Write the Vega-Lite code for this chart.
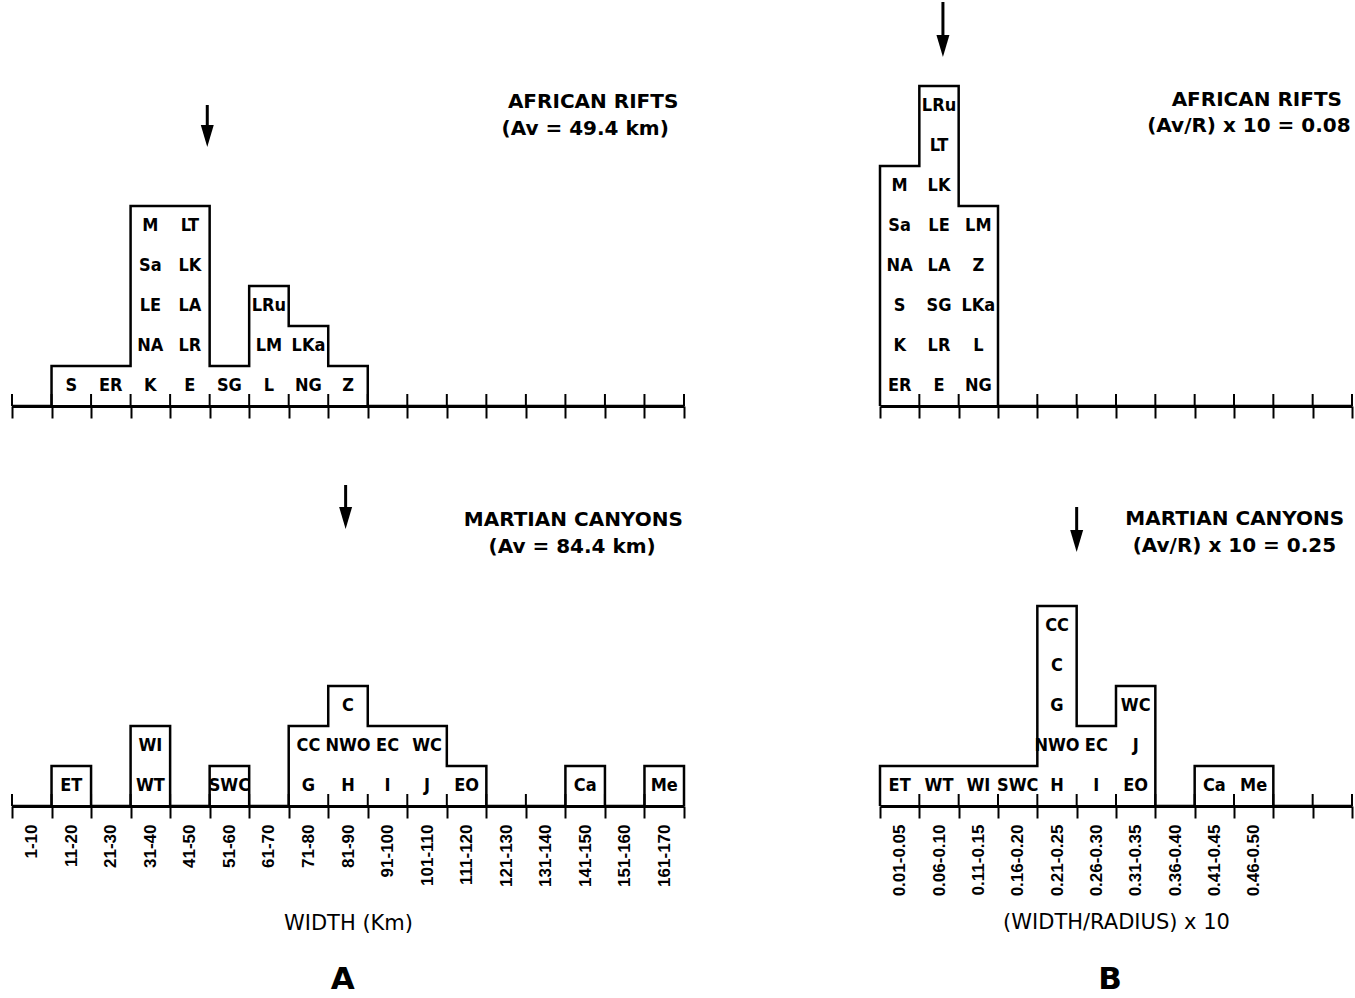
{
  "$schema": "https://vega.github.io/schema/vega-lite/v6.json",
  "padding": {"left": 3, "top": 0, "right": 0, "bottom": 0},
  "background": "white",
  "config": {"view": {"stroke": null}},
  "datasets": {
    "cells": [
      {"p": "TL", "bin": "11-20", "label": "S"},
      {"p": "TL", "bin": "21-30", "label": "ER"},
      {"p": "TL", "bin": "31-40", "label": "K"},
      {"p": "TL", "bin": "31-40", "label": "NA"},
      {"p": "TL", "bin": "31-40", "label": "LE"},
      {"p": "TL", "bin": "31-40", "label": "Sa"},
      {"p": "TL", "bin": "31-40", "label": "M"},
      {"p": "TL", "bin": "41-50", "label": "E"},
      {"p": "TL", "bin": "41-50", "label": "LR"},
      {"p": "TL", "bin": "41-50", "label": "LA"},
      {"p": "TL", "bin": "41-50", "label": "LK"},
      {"p": "TL", "bin": "41-50", "label": "LT"},
      {"p": "TL", "bin": "51-60", "label": "SG"},
      {"p": "TL", "bin": "61-70", "label": "L"},
      {"p": "TL", "bin": "61-70", "label": "LM"},
      {"p": "TL", "bin": "61-70", "label": "LRu"},
      {"p": "TL", "bin": "71-80", "label": "NG"},
      {"p": "TL", "bin": "71-80", "label": "LKa"},
      {"p": "TL", "bin": "81-90", "label": "Z"},
      {"p": "BL", "bin": "11-20", "label": "ET"},
      {"p": "BL", "bin": "31-40", "label": "WT"},
      {"p": "BL", "bin": "31-40", "label": "WI"},
      {"p": "BL", "bin": "51-60", "label": "SWC"},
      {"p": "BL", "bin": "71-80", "label": "G"},
      {"p": "BL", "bin": "71-80", "label": "CC"},
      {"p": "BL", "bin": "81-90", "label": "H"},
      {"p": "BL", "bin": "81-90", "label": "NWO"},
      {"p": "BL", "bin": "81-90", "label": "C"},
      {"p": "BL", "bin": "91-100", "label": "I"},
      {"p": "BL", "bin": "91-100", "label": "EC"},
      {"p": "BL", "bin": "101-110", "label": "J"},
      {"p": "BL", "bin": "101-110", "label": "WC"},
      {"p": "BL", "bin": "111-120", "label": "EO"},
      {"p": "BL", "bin": "141-150", "label": "Ca"},
      {"p": "BL", "bin": "161-170", "label": "Me"},
      {"p": "TR", "bin": "0.01-0.05", "label": "ER"},
      {"p": "TR", "bin": "0.01-0.05", "label": "K"},
      {"p": "TR", "bin": "0.01-0.05", "label": "S"},
      {"p": "TR", "bin": "0.01-0.05", "label": "NA"},
      {"p": "TR", "bin": "0.01-0.05", "label": "Sa"},
      {"p": "TR", "bin": "0.01-0.05", "label": "M"},
      {"p": "TR", "bin": "0.06-0.10", "label": "E"},
      {"p": "TR", "bin": "0.06-0.10", "label": "LR"},
      {"p": "TR", "bin": "0.06-0.10", "label": "SG"},
      {"p": "TR", "bin": "0.06-0.10", "label": "LA"},
      {"p": "TR", "bin": "0.06-0.10", "label": "LE"},
      {"p": "TR", "bin": "0.06-0.10", "label": "LK"},
      {"p": "TR", "bin": "0.06-0.10", "label": "LT"},
      {"p": "TR", "bin": "0.06-0.10", "label": "LRu"},
      {"p": "TR", "bin": "0.11-0.15", "label": "NG"},
      {"p": "TR", "bin": "0.11-0.15", "label": "L"},
      {"p": "TR", "bin": "0.11-0.15", "label": "LKa"},
      {"p": "TR", "bin": "0.11-0.15", "label": "Z"},
      {"p": "TR", "bin": "0.11-0.15", "label": "LM"},
      {"p": "BR", "bin": "0.01-0.05", "label": "ET"},
      {"p": "BR", "bin": "0.06-0.10", "label": "WT"},
      {"p": "BR", "bin": "0.11-0.15", "label": "WI"},
      {"p": "BR", "bin": "0.16-0.20", "label": "SWC"},
      {"p": "BR", "bin": "0.21-0.25", "label": "H"},
      {"p": "BR", "bin": "0.21-0.25", "label": "NWO"},
      {"p": "BR", "bin": "0.21-0.25", "label": "G"},
      {"p": "BR", "bin": "0.21-0.25", "label": "C"},
      {"p": "BR", "bin": "0.21-0.25", "label": "CC"},
      {"p": "BR", "bin": "0.26-0.30", "label": "I"},
      {"p": "BR", "bin": "0.26-0.30", "label": "EC"},
      {"p": "BR", "bin": "0.31-0.35", "label": "EO"},
      {"p": "BR", "bin": "0.31-0.35", "label": "J"},
      {"p": "BR", "bin": "0.31-0.35", "label": "WC"},
      {"p": "BR", "bin": "0.41-0.45", "label": "Ca"},
      {"p": "BR", "bin": "0.46-0.50", "label": "Me"}
    ],
    "edges": [
      {"p": "TL", "edge": 0, "count": 0}, {"p": "TL", "edge": 10, "count": 1}, {"p": "TL", "edge": 20, "count": 1},
      {"p": "TL", "edge": 30, "count": 5}, {"p": "TL", "edge": 40, "count": 5}, {"p": "TL", "edge": 50, "count": 1},
      {"p": "TL", "edge": 60, "count": 3}, {"p": "TL", "edge": 70, "count": 2}, {"p": "TL", "edge": 80, "count": 1},
      {"p": "TL", "edge": 90, "count": 0}, {"p": "TL", "edge": 100, "count": 0}, {"p": "TL", "edge": 110, "count": 0},
      {"p": "TL", "edge": 120, "count": 0}, {"p": "TL", "edge": 130, "count": 0}, {"p": "TL", "edge": 140, "count": 0},
      {"p": "TL", "edge": 150, "count": 0}, {"p": "TL", "edge": 160, "count": 0}, {"p": "TL", "edge": 170, "count": 0},
      {"p": "BL", "edge": 0, "count": 0}, {"p": "BL", "edge": 10, "count": 1}, {"p": "BL", "edge": 20, "count": 0},
      {"p": "BL", "edge": 30, "count": 2}, {"p": "BL", "edge": 40, "count": 0}, {"p": "BL", "edge": 50, "count": 1},
      {"p": "BL", "edge": 60, "count": 0}, {"p": "BL", "edge": 70, "count": 2}, {"p": "BL", "edge": 80, "count": 3},
      {"p": "BL", "edge": 90, "count": 2}, {"p": "BL", "edge": 100, "count": 2}, {"p": "BL", "edge": 110, "count": 1},
      {"p": "BL", "edge": 120, "count": 0}, {"p": "BL", "edge": 130, "count": 0}, {"p": "BL", "edge": 140, "count": 1},
      {"p": "BL", "edge": 150, "count": 0}, {"p": "BL", "edge": 160, "count": 1}, {"p": "BL", "edge": 170, "count": 0},
      {"p": "TR", "edge": 0, "count": 0}, {"p": "TR", "edge": 0.05, "count": 6}, {"p": "TR", "edge": 0.1, "count": 8},
      {"p": "TR", "edge": 0.15, "count": 5}, {"p": "TR", "edge": 0.2, "count": 0}, {"p": "TR", "edge": 0.25, "count": 0},
      {"p": "TR", "edge": 0.3, "count": 0}, {"p": "TR", "edge": 0.35, "count": 0}, {"p": "TR", "edge": 0.4, "count": 0},
      {"p": "TR", "edge": 0.45, "count": 0}, {"p": "TR", "edge": 0.5, "count": 0}, {"p": "TR", "edge": 0.55, "count": 0},
      {"p": "TR", "edge": 0.6, "count": 0},
      {"p": "BR", "edge": 0, "count": 0}, {"p": "BR", "edge": 0.05, "count": 1}, {"p": "BR", "edge": 0.1, "count": 1},
      {"p": "BR", "edge": 0.15, "count": 1}, {"p": "BR", "edge": 0.2, "count": 1}, {"p": "BR", "edge": 0.25, "count": 5},
      {"p": "BR", "edge": 0.3, "count": 2}, {"p": "BR", "edge": 0.35, "count": 3}, {"p": "BR", "edge": 0.4, "count": 0},
      {"p": "BR", "edge": 0.45, "count": 1}, {"p": "BR", "edge": 0.5, "count": 1}, {"p": "BR", "edge": 0.55, "count": 0},
      {"p": "BR", "edge": 0.6, "count": 0}
    ]
  },
  "columns": 2,
  "spacing": {"row": 0, "column": 196},
  "bounds": "flush",
  "align": "each",
  "concat": [
    {
      "width": 672, "height": 404,
      "resolve": {"scale": {"x": "independent"}},
      "layer": [
        {
          "layer": [
            {"data": {"name": "edges"}, "transform": [{"filter": "datum.p == 'TL'"}],
             "mark": {"type": "line", "interpolate": "step-after", "color": "black", "strokeWidth": 2.5, "strokeJoin": "miter"},
             "encoding": {
               "x": {"field": "edge", "type": "quantitative", "scale": {"domain": [0, 170], "nice": false, "zero": false}, "axis": null},
               "y": {"field": "count", "type": "quantitative", "scale": {"domain": [0, 10.1], "nice": false, "zero": false}, "axis": null}}},
            {"data": {"name": "edges"}, "transform": [{"filter": "datum.p == 'TL'"}],
             "mark": {"type": "rule", "color": "black", "strokeWidth": 2},
             "encoding": {
               "x": {"field": "edge", "type": "quantitative", "scale": {"domain": [0, 170], "nice": false, "zero": false}, "axis": null},
               "y": {"datum": 0, "type": "quantitative", "axis": null}, "y2": {"datum": 0.3}}},
            {"data": {"values": [{}]},
             "mark": {"type": "rule", "color": "black", "strokeWidth": 3},
             "encoding": {
               "x": {"datum": 49.4, "type": "quantitative", "scale": {"domain": [0, 170], "nice": false, "zero": false}, "axis": null},
               "y": {"datum": 7.525, "type": "quantitative", "axis": null}, "y2": {"datum": 6.85}}},
            {"data": {"values": [{}]},
             "mark": {"type": "point", "shape": "M-0.59,-1L0.59,-1L0,1Z", "size": 484, "filled": true, "color": "black", "opacity": 1, "strokeWidth": 0},
             "encoding": {
               "x": {"datum": 49.4, "type": "quantitative", "scale": {"domain": [0, 170], "nice": false, "zero": false}, "axis": null},
               "y": {"datum": 6.75, "type": "quantitative", "axis": null}}},
            {"data": {"values": [{}]},
             "mark": {"type": "text", "text": "AFRICAN RIFTS", "font": "DejaVu Sans", "fontWeight": "bold", "fontSize": 20, "align": "center", "baseline": "middle", "color": "black"},
             "encoding": {
               "x": {"datum": 147, "type": "quantitative", "scale": {"domain": [0, 170], "nice": false, "zero": false}, "axis": null},
               "y": {"datum": 7.6, "type": "quantitative", "axis": null}}},
            {"data": {"values": [{}]},
             "mark": {"type": "text", "text": "(Av = 49.4 km)", "font": "DejaVu Sans", "fontWeight": "bold", "fontSize": 20, "align": "center", "baseline": "middle", "color": "black"},
             "encoding": {
               "x": {"datum": 145, "type": "quantitative", "scale": {"domain": [0, 170], "nice": false, "zero": false}, "axis": null},
               "y": {"datum": 6.925, "type": "quantitative", "axis": null}}}
          ]
        },
        {"data": {"name": "cells"},
         "transform": [{"filter": "datum.p == 'TL'"}, {"window": [{"op": "row_number", "as": "level"}], "groupby": ["bin"]}],
         "mark": {"type": "text", "dy": 20, "font": "'Liberation Sans Narrow', 'DejaVu Sans Condensed', sans-serif", "fontWeight": "bold", "fontSize": 18, "align": "center", "baseline": "middle", "color": "black"},
         "encoding": {
           "x": {"field": "bin", "type": "nominal",
                 "scale": {"type": "band", "paddingInner": 0, "paddingOuter": 0, "domain": ["1-10","11-20","21-30","31-40","41-50","51-60","61-70","71-80","81-90","91-100","101-110","111-120","121-130","131-140","141-150","151-160","161-170"]},
                 "axis": {"title": null, "labels": false, "tickBand": "extent", "tickSize": 12, "tickWidth": 2, "tickColor": "black", "domainColor": "black", "domainWidth": 3, "grid": false}},
           "y": {"field": "level", "type": "quantitative", "axis": null},
           "text": {"field": "label"}}}
      ]
    },
    {
      "width": 472, "height": 404,
      "resolve": {"scale": {"x": "independent"}},
      "layer": [
        {
          "layer": [
            {"data": {"name": "edges"}, "transform": [{"filter": "datum.p == 'TR'"}],
             "mark": {"type": "line", "interpolate": "step-before", "color": "black", "strokeWidth": 2.5, "strokeJoin": "miter"},
             "encoding": {
               "x": {"field": "edge", "type": "quantitative", "scale": {"domain": [0, 0.6], "nice": false, "zero": false}, "axis": null},
               "y": {"field": "count", "type": "quantitative", "scale": {"domain": [0, 10.1], "nice": false, "zero": false}, "axis": null}}},
            {"data": {"name": "edges"}, "transform": [{"filter": "datum.p == 'TR'"}],
             "mark": {"type": "rule", "color": "black", "strokeWidth": 2},
             "encoding": {
               "x": {"field": "edge", "type": "quantitative", "scale": {"domain": [0, 0.6], "nice": false, "zero": false}, "axis": null},
               "y": {"datum": 0, "type": "quantitative", "axis": null}, "y2": {"datum": 0.3}}},
            {"data": {"values": [{}]},
             "mark": {"type": "rule", "color": "black", "strokeWidth": 3},
             "encoding": {
               "x": {"datum": 0.08, "type": "quantitative", "scale": {"domain": [0, 0.6], "nice": false, "zero": false}, "axis": null},
               "y": {"datum": 10.1, "type": "quantitative", "axis": null}, "y2": {"datum": 9.15}}},
            {"data": {"values": [{}]},
             "mark": {"type": "point", "shape": "M-0.59,-1L0.59,-1L0,1Z", "size": 484, "filled": true, "color": "black", "opacity": 1, "strokeWidth": 0},
             "encoding": {
               "x": {"datum": 0.08, "type": "quantitative", "scale": {"domain": [0, 0.6], "nice": false, "zero": false}, "axis": null},
               "y": {"datum": 9.0, "type": "quantitative", "axis": null}}},
            {"data": {"values": [{}]},
             "mark": {"type": "text", "text": "AFRICAN RIFTS", "font": "DejaVu Sans", "fontWeight": "bold", "fontSize": 20, "align": "center", "baseline": "middle", "color": "black"},
             "encoding": {
               "x": {"datum": 0.479, "type": "quantitative", "scale": {"domain": [0, 0.6], "nice": false, "zero": false}, "axis": null},
               "y": {"datum": 7.65, "type": "quantitative", "axis": null}}},
            {"data": {"values": [{}]},
             "mark": {"type": "text", "text": "(Av/R) x 10 = 0.08", "font": "DejaVu Sans", "fontWeight": "bold", "fontSize": 20, "align": "center", "baseline": "middle", "color": "black"},
             "encoding": {
               "x": {"datum": 0.469, "type": "quantitative", "scale": {"domain": [0, 0.6], "nice": false, "zero": false}, "axis": null},
               "y": {"datum": 7.0, "type": "quantitative", "axis": null}}}
          ]
        },
        {"data": {"name": "cells"},
         "transform": [{"filter": "datum.p == 'TR'"}, {"window": [{"op": "row_number", "as": "level"}], "groupby": ["bin"]}],
         "mark": {"type": "text", "dy": 20, "font": "'Liberation Sans Narrow', 'DejaVu Sans Condensed', sans-serif", "fontWeight": "bold", "fontSize": 18, "align": "center", "baseline": "middle", "color": "black"},
         "encoding": {
           "x": {"field": "bin", "type": "nominal",
                 "scale": {"type": "band", "paddingInner": 0, "paddingOuter": 0, "domain": ["0.01-0.05","0.06-0.10","0.11-0.15","0.16-0.20","0.21-0.25","0.26-0.30","0.31-0.35","0.36-0.40","0.41-0.45","0.46-0.50","0.51-0.55","0.56-0.60"]},
                 "axis": {"title": null, "labels": false, "tickBand": "extent", "tickSize": 12, "tickWidth": 2, "tickColor": "black", "domainColor": "black", "domainWidth": 3, "grid": false}},
           "y": {"field": "level", "type": "quantitative", "axis": null},
           "text": {"field": "label"}}}
      ]
    },
    {
      "width": 672, "height": 400,
      "resolve": {"scale": {"x": "independent"}},
      "layer": [
        {
          "layer": [
            {"data": {"name": "edges"}, "transform": [{"filter": "datum.p == 'BL'"}],
             "mark": {"type": "line", "interpolate": "step-after", "color": "black", "strokeWidth": 2.5, "strokeJoin": "miter"},
             "encoding": {
               "x": {"field": "edge", "type": "quantitative", "scale": {"domain": [0, 170], "nice": false, "zero": false}, "axis": null},
               "y": {"field": "count", "type": "quantitative", "scale": {"domain": [0, 10], "nice": false, "zero": false}, "axis": null}}},
            {"data": {"name": "edges"}, "transform": [{"filter": "datum.p == 'BL'"}],
             "mark": {"type": "rule", "color": "black", "strokeWidth": 2},
             "encoding": {
               "x": {"field": "edge", "type": "quantitative", "scale": {"domain": [0, 170], "nice": false, "zero": false}, "axis": null},
               "y": {"datum": 0, "type": "quantitative", "axis": null}, "y2": {"datum": 0.3}}},
            {"data": {"values": [{}]},
             "mark": {"type": "rule", "color": "black", "strokeWidth": 3},
             "encoding": {
               "x": {"datum": 84.4, "type": "quantitative", "scale": {"domain": [0, 170], "nice": false, "zero": false}, "axis": null},
               "y": {"datum": 8.025, "type": "quantitative", "axis": null}, "y2": {"datum": 7.35}}},
            {"data": {"values": [{}]},
             "mark": {"type": "point", "shape": "M-0.59,-1L0.59,-1L0,1Z", "size": 484, "filled": true, "color": "black", "opacity": 1, "strokeWidth": 0},
             "encoding": {
               "x": {"datum": 84.4, "type": "quantitative", "scale": {"domain": [0, 170], "nice": false, "zero": false}, "axis": null},
               "y": {"datum": 7.2, "type": "quantitative", "axis": null}}},
            {"data": {"values": [{}]},
             "mark": {"type": "text", "text": "MARTIAN CANYONS", "font": "DejaVu Sans", "fontWeight": "bold", "fontSize": 20, "align": "center", "baseline": "middle", "color": "black"},
             "encoding": {
               "x": {"datum": 142, "type": "quantitative", "scale": {"domain": [0, 170], "nice": false, "zero": false}, "axis": null},
               "y": {"datum": 7.15, "type": "quantitative", "axis": null}}},
            {"data": {"values": [{}]},
             "mark": {"type": "text", "text": "(Av = 84.4 km)", "font": "DejaVu Sans", "fontWeight": "bold", "fontSize": 20, "align": "center", "baseline": "middle", "color": "black"},
             "encoding": {
               "x": {"datum": 141.7, "type": "quantitative", "scale": {"domain": [0, 170], "nice": false, "zero": false}, "axis": null},
               "y": {"datum": 6.475, "type": "quantitative", "axis": null}}},
            {"data": {"values": [{}]},
             "mark": {"type": "text", "text": "A", "font": "DejaVu Sans", "fontWeight": "bold", "fontSize": 31, "align": "center", "baseline": "middle", "color": "black"},
             "encoding": {
               "x": {"datum": 83.7, "type": "quantitative", "scale": {"domain": [0, 170], "nice": false, "zero": false}, "axis": null},
               "y": {"datum": -4.36, "type": "quantitative", "axis": null}}}
          ]
        },
        {"data": {"name": "cells"},
         "transform": [{"filter": "datum.p == 'BL'"}, {"window": [{"op": "row_number", "as": "level"}], "groupby": ["bin"]}],
         "mark": {"type": "text", "dy": 20, "font": "'Liberation Sans Narrow', 'DejaVu Sans Condensed', sans-serif", "fontWeight": "bold", "fontSize": 18, "align": "center", "baseline": "middle", "color": "black"},
         "encoding": {
           "x": {"field": "bin", "type": "nominal",
                 "scale": {"type": "band", "paddingInner": 0, "paddingOuter": 0, "domain": ["1-10","11-20","21-30","31-40","41-50","51-60","61-70","71-80","81-90","91-100","101-110","111-120","121-130","131-140","141-150","151-160","161-170"]},
                 "axis": {"title": "WIDTH (Km)", "tickBand": "extent", "tickSize": 12, "tickWidth": 2, "tickColor": "black", "domainColor": "black", "domainWidth": 3, "grid": false,
                          "labelAngle": -90, "labelFont": "Liberation Sans", "labelFontSize": 17, "labelFontWeight": "bold", "labelColor": "black", "labelPadding": 6,
                          "labelOverlap": false, "labelBound": false, "labelFlush": false,
                          "titleFont": "DejaVu Sans", "titleFontSize": 21, "titleFontWeight": "normal", "titleColor": "black", "titlePadding": 26}},
           "y": {"field": "level", "type": "quantitative", "axis": null},
           "text": {"field": "label"}}}
      ]
    },
    {
      "width": 472, "height": 400,
      "resolve": {"scale": {"x": "independent"}},
      "layer": [
        {
          "layer": [
            {"data": {"name": "edges"}, "transform": [{"filter": "datum.p == 'BR'"}],
             "mark": {"type": "line", "interpolate": "step-before", "color": "black", "strokeWidth": 2.5, "strokeJoin": "miter"},
             "encoding": {
               "x": {"field": "edge", "type": "quantitative", "scale": {"domain": [0, 0.6], "nice": false, "zero": false}, "axis": null},
               "y": {"field": "count", "type": "quantitative", "scale": {"domain": [0, 10], "nice": false, "zero": false}, "axis": null}}},
            {"data": {"name": "edges"}, "transform": [{"filter": "datum.p == 'BR'"}],
             "mark": {"type": "rule", "color": "black", "strokeWidth": 2},
             "encoding": {
               "x": {"field": "edge", "type": "quantitative", "scale": {"domain": [0, 0.6], "nice": false, "zero": false}, "axis": null},
               "y": {"datum": 0, "type": "quantitative", "axis": null}, "y2": {"datum": 0.3}}},
            {"data": {"values": [{}]},
             "mark": {"type": "rule", "color": "black", "strokeWidth": 3},
             "encoding": {
               "x": {"datum": 0.25, "type": "quantitative", "scale": {"domain": [0, 0.6], "nice": false, "zero": false}, "axis": null},
               "y": {"datum": 7.475, "type": "quantitative", "axis": null}, "y2": {"datum": 6.8}}},
            {"data": {"values": [{}]},
             "mark": {"type": "point", "shape": "M-0.59,-1L0.59,-1L0,1Z", "size": 484, "filled": true, "color": "black", "opacity": 1, "strokeWidth": 0},
             "encoding": {
               "x": {"datum": 0.25, "type": "quantitative", "scale": {"domain": [0, 0.6], "nice": false, "zero": false}, "axis": null},
               "y": {"datum": 6.625, "type": "quantitative", "axis": null}}},
            {"data": {"values": [{}]},
             "mark": {"type": "text", "text": "MARTIAN CANYONS", "font": "DejaVu Sans", "fontWeight": "bold", "fontSize": 20, "align": "center", "baseline": "middle", "color": "black"},
             "encoding": {
               "x": {"datum": 0.451, "type": "quantitative", "scale": {"domain": [0, 0.6], "nice": false, "zero": false}, "axis": null},
               "y": {"datum": 7.175, "type": "quantitative", "axis": null}}},
            {"data": {"values": [{}]},
             "mark": {"type": "text", "text": "(Av/R) x 10 = 0.25", "font": "DejaVu Sans", "fontWeight": "bold", "fontSize": 20, "align": "center", "baseline": "middle", "color": "black"},
             "encoding": {
               "x": {"datum": 0.4505, "type": "quantitative", "scale": {"domain": [0, 0.6], "nice": false, "zero": false}, "axis": null},
               "y": {"datum": 6.5, "type": "quantitative", "axis": null}}},
            {"data": {"values": [{}]},
             "mark": {"type": "text", "text": "B", "font": "DejaVu Sans", "fontWeight": "bold", "fontSize": 31, "align": "center", "baseline": "middle", "color": "black"},
             "encoding": {
               "x": {"datum": 0.2924, "type": "quantitative", "scale": {"domain": [0, 0.6], "nice": false, "zero": false}, "axis": null},
               "y": {"datum": -4.36, "type": "quantitative", "axis": null}}}
          ]
        },
        {"data": {"name": "cells"},
         "transform": [{"filter": "datum.p == 'BR'"}, {"window": [{"op": "row_number", "as": "level"}], "groupby": ["bin"]}],
         "mark": {"type": "text", "dy": 20, "font": "'Liberation Sans Narrow', 'DejaVu Sans Condensed', sans-serif", "fontWeight": "bold", "fontSize": 18, "align": "center", "baseline": "middle", "color": "black"},
         "encoding": {
           "x": {"field": "bin", "type": "nominal",
                 "scale": {"type": "band", "paddingInner": 0, "paddingOuter": 0, "domain": ["0.01-0.05","0.06-0.10","0.11-0.15","0.16-0.20","0.21-0.25","0.26-0.30","0.31-0.35","0.36-0.40","0.41-0.45","0.46-0.50","0.51-0.55","0.56-0.60"]},
                 "axis": {"title": "(WIDTH/RADIUS) x 10", "tickBand": "extent", "tickSize": 12, "tickWidth": 2, "tickColor": "black", "domainColor": "black", "domainWidth": 3, "grid": false,
                          "labelExpr": "datum.value == '0.51-0.55' || datum.value == '0.56-0.60' ? '' : datum.label",
                          "labelAngle": -90, "labelFont": "Liberation Sans", "labelFontSize": 17, "labelFontWeight": "bold", "labelColor": "black", "labelPadding": 6,
                          "labelOverlap": false, "labelBound": false, "labelFlush": false,
                          "titleFont": "DejaVu Sans", "titleFontSize": 21, "titleFontWeight": "normal", "titleColor": "black", "titlePadding": 16}},
           "y": {"field": "level", "type": "quantitative", "axis": null},
           "text": {"field": "label"}}}
      ]
    }
  ]
}
